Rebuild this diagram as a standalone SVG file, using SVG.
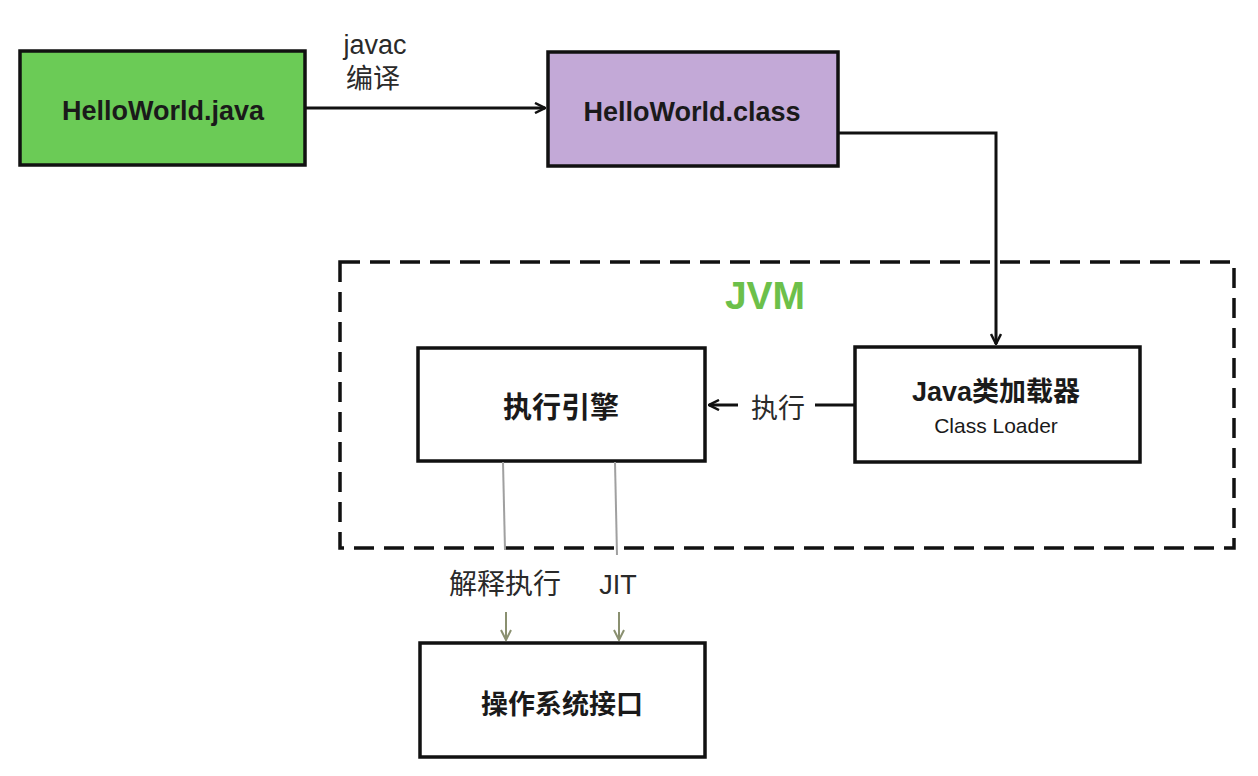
<svg xmlns="http://www.w3.org/2000/svg" width="1258" height="776" viewBox="0 0 1258 776">
<style>
.box{stroke:#111;stroke-width:3.5;fill:#fff}
.t{font-family:"Liberation Sans","Noto Sans CJK SC",sans-serif;fill:#1a1a1a;text-anchor:middle}
.b{font-weight:bold;font-size:27px}
.l{font-size:27px;fill:#2a2a2a}
.c{stroke:#111;stroke-width:3;fill:none}
.g{stroke:#a0a0a0;stroke-width:2;fill:none}
.o{stroke:#8a9070;stroke-width:2;fill:none}
</style>
<defs>
<marker id="ah" viewBox="0 0 12 12" refX="11" refY="6" markerWidth="12" markerHeight="12" markerUnits="userSpaceOnUse" orient="auto"><path d="M1,1 L11,6 L1,11" fill="none" stroke="#111" stroke-width="2.5"/></marker>
<marker id="ao" viewBox="0 0 12 12" refX="11" refY="6" markerWidth="12" markerHeight="12" markerUnits="userSpaceOnUse" orient="auto"><path d="M1,1 L11,6 L1,11" fill="none" stroke="#8a9070" stroke-width="2"/></marker>
</defs>
<rect width="1258" height="776" fill="#fff"/>
<g id="jvm">
<rect x="340" y="262" width="894" height="286" fill="none" stroke="#111" stroke-width="3.5" stroke-dasharray="20,10"/>
<text x="765" y="309" font-family="Liberation Sans,sans-serif" font-size="39" font-weight="bold" fill="#6cc04a" text-anchor="middle">JVM</text>
</g>
<g id="java">
<rect class="box" x="20" y="51" width="285" height="114" style="fill:#6bcb56"/>
<text class="t b" x="163" y="120">HelloWorld.java</text>
</g>
<g id="class">
<rect class="box" x="548" y="52" width="290" height="114" style="fill:#c3a9d7"/>
<text class="t b" x="692" y="121">HelloWorld.class</text>
</g>
<g id="loader">
<rect class="box" x="855" y="347" width="285" height="115"/>
<text class="t b" x="996" y="401">Java类加载器</text>
<text class="t" x="996" y="433" font-size="21">Class Loader</text>
</g>
<g id="engine">
<rect class="box" x="418" y="348" width="287" height="113"/>
<text class="t b" x="561" y="418" font-size="29" style="font-size:29px">执行引擎</text>
</g>
<g id="os">
<rect class="box" x="420" y="643" width="285" height="114"/>
<text class="t b" x="562" y="714">操作系统接口</text>
</g>
<g id="connectors">
<path class="c" d="M305,108 L545,108" marker-end="url(#ah)"/>
<text class="t l" x="375" y="54">javac</text>
<text class="t l" x="373" y="88">编译</text>
<path class="c" d="M838,133 L996,133 L996,344" marker-end="url(#ah)"/>
<path class="c" d="M855,405 L815,405"/>
<text class="t l" x="778" y="418">执行</text>
<path class="c" d="M738,405 L709,405" stroke-width="2.5" marker-end="url(#ah)"/>
<path class="g" d="M503,462 L505,550"/>
<path class="g" d="M615,462 L617,555"/>
<text class="t l" x="505" y="594" style="font-size:28px">解释执行</text>
<text class="t l" x="618" y="594">JIT</text>
<path class="o" d="M506,612 L506,640" marker-end="url(#ao)"/>
<path class="o" d="M619,612 L619,640" marker-end="url(#ao)"/>
</g>
</svg>
